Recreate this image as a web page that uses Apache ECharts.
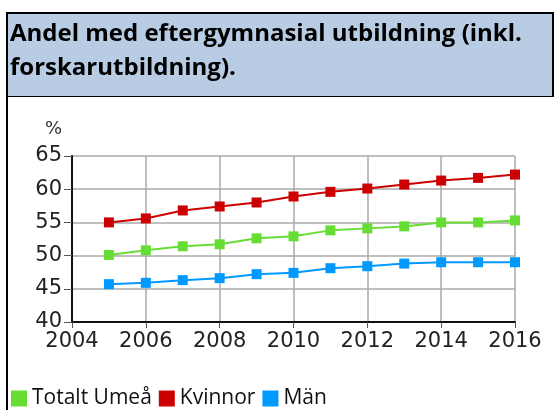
<!DOCTYPE html>
<html>
<head>
<meta charset="utf-8">
<script src="https://cdn.jsdelivr.net/npm/echarts@6/dist/echarts.min.js"></script>
<style>
    html, body { margin: 0; padding: 0; background: #fff; }
    #chart { width: 555px; height: 410px; }
</style>
</head>
<body>
<div id="chart"></div>
<script>
const years = [2005, 2006, 2007, 2008, 2009, 2010, 2011, 2012, 2013, 2014, 2015, 2016];
const totalt = [50.1, 50.8, 51.4, 51.7, 52.6, 52.9, 53.8, 54.1, 54.4, 55.0, 55.0, 55.3];
const kvinnor = [55.0, 55.6, 56.8, 57.4, 58.0, 58.9, 59.6, 60.1, 60.7, 61.3, 61.7, 62.2];
const man = [45.7, 45.9, 46.3, 46.6, 47.2, 47.4, 48.1, 48.4, 48.8, 49.0, 49.0, 49.0];
const seriesNames = ['Totalt Umeå', 'Kvinnor', 'Män'];
const titleLines = ['Andel med eftergymnasial utbildning (inkl.', 'forskarutbildning).'];

const colors = ['#66dd33', '#cc0000', '#0099ff'];
const values = [totalt, kvinnor, man];

function pairs(vals) {
    return years.map((y, i) => [y, vals[i]]);
}

const series = [];
for (var i = 0; i < seriesNames.length; i++) {
    series.push({
        name: seriesNames[i],
        type: 'line',
        data: pairs(values[i]),
        color: colors[i],
        symbol: 'rect',
        symbolSize: 10,
        lineStyle: { width: 2 },
        animation: false
    });
}

const chart = echarts.init(document.getElementById('chart'));
chart.setOption({
    backgroundColor: '#fff',
    animation: false,
    graphic: [
        { type: 'rect', shape: { x: 7, y: 13, width: 546, height: 83 }, style: { fill: '#b8cce4' } },
        { type: 'line', shape: { x1: 6, y1: 13, x2: 554, y2: 13 }, style: { stroke: '#000', lineWidth: 2 } },
        { type: 'line', shape: { x1: 7, y1: 12, x2: 7, y2: 410 }, style: { stroke: '#000', lineWidth: 2 } },
        { type: 'line', shape: { x1: 553, y1: 12, x2: 553, y2: 97 }, style: { stroke: '#000', lineWidth: 2 } },
        { type: 'line', shape: { x1: 6, y1: 96.5, x2: 554, y2: 96.5 }, style: { stroke: '#000', lineWidth: 1 } },
        {
            type: 'text', left: 10, top: 22,
            style: { text: titleLines[0], font: 'bold 24px "Open Sans"', fill: '#000' }
        },
        {
            type: 'text', left: 10, top: 56,
            style: { text: titleLines[1], font: 'bold 24px "Open Sans"', fill: '#000' }
        }
    ],
    legend: {
        left: 11,
        top: 388,
        itemWidth: 16,
        itemHeight: 16,
        itemGap: 7,
        icon: 'rect',
        padding: 0,
        textStyle: { fontFamily: 'Open Sans', fontSize: 21, color: '#111' },
        data: seriesNames
    },
    grid: { left: 72, right: 40, top: 156, bottom: 88 },
    xAxis: {
        type: 'value',
        min: 2004,
        max: 2016,
        interval: 2,
        axisLine: { lineStyle: { color: '#111', width: 2 } },
        axisTick: { show: true, length: 6, lineStyle: { color: '#555', width: 1 } },
        axisLabel: {
            color: '#222', fontFamily: 'DejaVu Sans', fontSize: 21, margin: 9,
            formatter: (v) => String(v)
        },
        splitLine: { show: true, lineStyle: { color: '#aaa', width: 1.5 } }
    },
    yAxis: {
        type: 'value',
        min: 40,
        max: 65,
        interval: 5,
        name: '%',
        nameLocation: 'end',
        nameGap: 18,
        nameTextStyle: { fontFamily: 'DejaVu Sans', fontSize: 18, color: '#333', align: 'right', padding: [0, 10, 0, 0] },
        axisLine: { show: true, lineStyle: { color: '#111', width: 2 } },
        axisTick: { show: true, length: 8, lineStyle: { color: '#555', width: 1 } },
        axisLabel: { color: '#222', fontFamily: 'DejaVu Sans', fontSize: 21, margin: 10 },
        splitLine: { show: true, lineStyle: { color: '#aaa', width: 1.5 } }
    },
    series: series
});
</script>
</body>
</html>
